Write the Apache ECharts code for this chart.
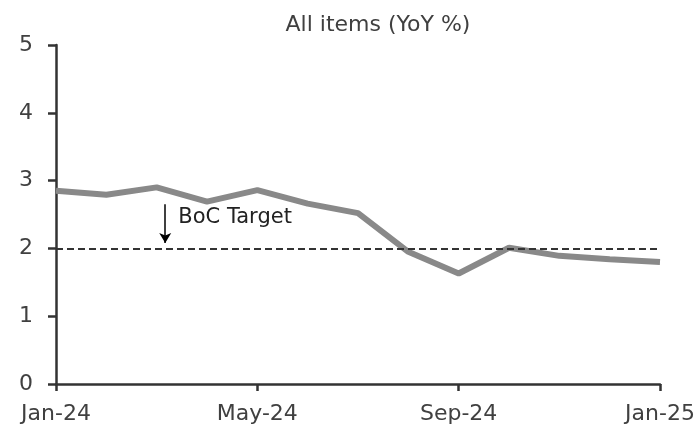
<!DOCTYPE html>
<html lang="en">
<head>
    <meta charset="UTF-8">
    <title>All items (YoY %)</title>
    <script src="https://cdn.jsdelivr.net/npm/echarts@6/dist/echarts.min.js"></script>
    <style>
        html, body { margin: 0; padding: 0; background: #fff; }
        #chart { width: 699px; height: 426px; }
    </style>
</head>
<body>
    <div id="chart"></div>
    <script>
        // monthly CPI, Jan-24 .. Jan-25
        const months = ["Jan-24", "Feb-24", "Mar-24", "Apr-24", "May-24", "Jun-24", "Jul-24",
            "Aug-24", "Sep-24", "Oct-24", "Nov-24", "Dec-24", "Jan-25"];
        const allItems = [2.85, 2.79, 2.90, 2.69, 2.86, 2.66, 2.52, 1.95, 1.63, 2.01, 1.89, 1.84, 1.80];
        const target = 2;
        const yTicks = [0, 1, 2, 3, 4, 5];

        const font = "'DejaVu Sans', sans-serif";
        const ink = "#404040";

        const chart = echarts.init(document.getElementById("chart"));

        const option = {
            animation: false,
            title: {
                text: "All items (YoY %)",
                left: 373, top: 9, textAlign: "center",
                textStyle: { fontFamily: font, fontWeight: "normal", fontSize: 22, color: ink }
            },
            grid: { left: 56, right: 39, top: 45, bottom: 42 },
            xAxis: {
                type: "value",
                min: 0, max: months.length - 1, interval: 4,
                axisLine: { lineStyle: { color: "#333", width: 2.5 } },
                axisTick: { show: true, length: 7, lineStyle: { color: "#333", width: 2.5 } },
                splitLine: { show: false },
                axisLabel: {
                    margin: 19,
                    fontFamily: font, fontSize: 22, color: ink,
                    formatter: v => months[v] || ""
                }
            },
            yAxis: {
                type: "value",
                min: yTicks[0], max: yTicks[yTicks.length - 1], interval: 1,
                axisLine: { show: true, lineStyle: { color: "#333", width: 2.5 } },
                axisTick: { show: true, length: 8, inside: false, lineStyle: { color: "#333", width: 2.5 } },
                splitLine: { show: false },
                axisLabel: { margin: 23, fontFamily: font, fontSize: 22, color: ink }
            },
            series: [
                {
                    name: "All items",
                    type: "line",
                    data: allItems.map((v, i) => [i, v]),
                    symbol: "none",
                    lineStyle: { color: "#898989", width: 6 },
                    z: 3,
                    markLine: {
                        silent: true,
                        symbol: ["none", "none"],
                        label: { show: false },
                        lineStyle: { color: "#333", width: 2, type: [7, 4] },
                        data: [{ yAxis: target }]
                    }
                },
                {
                    // BoC Target annotation
                    type: "line",
                    data: [],
                    markLine: {
                        silent: true,
                        symbol: ["none", "arrow"],
                        symbolSize: [9, 10],
                        label: { show: false },
                        lineStyle: { color: "#000", width: 1.5, type: "solid" },
                        data: [[{ coord: [2.17, 2.65] }, { coord: [2.17, 2.08] }]]
                    },
                    markPoint: {
                        silent: true,
                        symbol: "circle",
                        symbolSize: 0,
                        label: {
                            show: true, position: "right", distance: 0,
                            formatter: "BoC Target",
                            fontFamily: font, fontSize: 21, color: "#222"
                        },
                        data: [{ coord: [2.43, 2.46] }]
                    }
                }
            ]
        };

        chart.setOption(option);
    </script>
</body>
</html>
